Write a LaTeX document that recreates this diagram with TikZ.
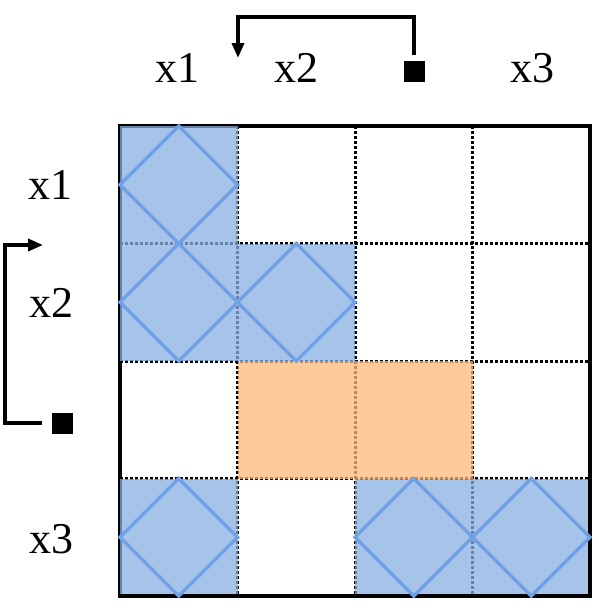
\documentclass[tikz,border=0pt]{standalone}
\usepackage{fontspec}
\setmainfont{Liberation Serif}
\usetikzlibrary{arrows.meta}
\definecolor{bluefill}{RGB}{136,175,227}
\definecolor{orangefill}{RGB}{255,184,119}
\definecolor{diamcol}{RGB}{112,160,230}
\tikzset{
  lbl/.style={anchor=base, inner sep=0pt, font=\fontsize{44}{50}\selectfont},
  sq/.style={fill=black, minimum size=21pt, inner sep=0pt},
  gridline/.style={line width=3pt, dash pattern=on 2.5pt off 2.5pt, black},
  border/.style={line width=4pt, black},
  bcell/.style={fill=bluefill, fill opacity=0.75},
  ocell/.style={fill=orangefill, fill opacity=0.75},
  diam/.style={draw=diamcol, line width=3.5pt, line join=miter},
  swap/.style={line width=3.5pt, black, -{Triangle[length=15pt,width=12pt]}}
}
\begin{document}
\begin{tikzpicture}[x=1pt,y=-1pt]
\useasboundingbox (0,0) rectangle (598,614);
% grid
\foreach \i in {1,2,3}{
  \draw[gridline] ({120+\i*117.5},126) -- ({120+\i*117.5},596);
  \draw[gridline] (120,{126+\i*117.5}) -- (590,{126+\i*117.5});
}
\draw[border] (120,126) rectangle (590,596);
% cells
\foreach \c/\r in {1/1,1/2,2/2,1/4,3/4,4/4}{
  \fill[bcell] ({120+(\c-1)*117.5},{126+(\r-1)*117.5}) rectangle ++(117.5,117.5);
}
\foreach \c/\r in {2/3,3/3}{
  \fill[ocell] ({120+(\c-1)*117.5},{126+(\r-1)*117.5}) rectangle ++(117.5,117.5);
}
\draw[border] (120,596) -- (590,596) -- (590,126);
\foreach \c/\r in {1/1,1/2,2/2,1/4,3/4,4/4}{
  \draw[diam] ({120+(\c-0.5)*117.5},{126+(\r-1)*117.5}) -- ++(58.75,58.75) -- ++(-58.75,58.75) -- ++(-58.75,-58.75) -- cycle;
}
% labels
\node[lbl] (tx1) at (177,82) {x1};
\node[lbl] (tx2) at (296,82) {x2};
\node[lbl] (tx3) at (532,82) {x3};
\node[lbl] (lx1) at (50,199) {x1};
\node[lbl] (lx2) at (52,317) {x2};
\node[lbl] (lx3) at (51,553) {x3};
% swap arrows
\node[sq] (sqT) at (414,71) {};
\coordinate (tipT) at (238,58);
\draw[swap, shorten <=5pt] (sqT.north) -- (414,17) -| (tipT);
\node[sq] (sqL) at (62,423) {};
\coordinate (tipL) at (43,245);
\draw[swap, shorten <=9pt] (sqL.west) -- (5,423) |- (tipL);
\end{tikzpicture}
\end{document}
